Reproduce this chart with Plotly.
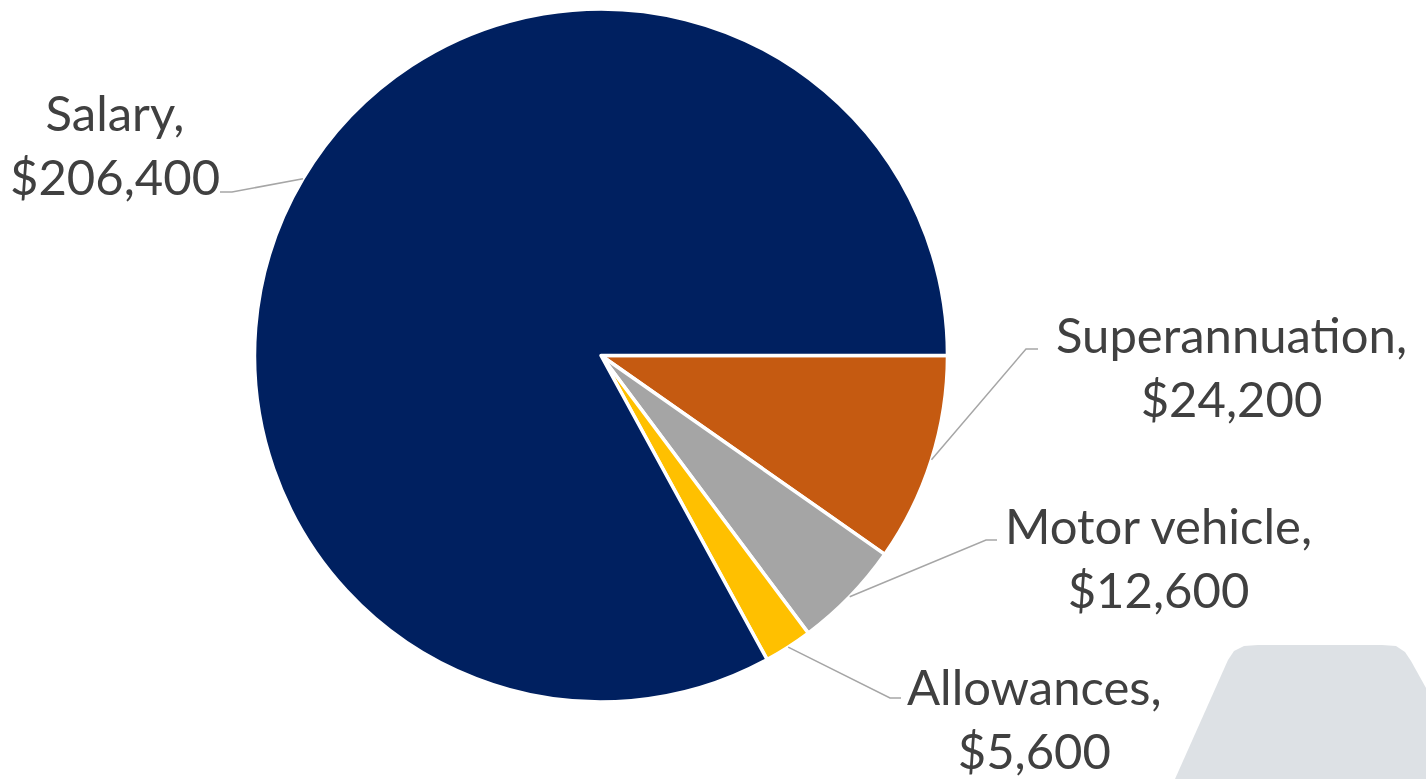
import math
import plotly.graph_objects as go

# Remuneration package components (clockwise from 3 o'clock)
categories = ["Superannuation", "Motor vehicle", "Allowances", "Salary"]
values = [24200, 12600, 5600, 206400]
colors = ["#C55A11", "#A5A5A5", "#FFC000", "#002060"]

W, H = 1426, 779

# pie geometry in pixels
CX, CY, R = 601.0, 355.5, 346.5


def px(x):
    return x / W


def py(y):
    return 1 - y / H


fig = go.Figure()
fig.add_trace(go.Pie(
    labels=categories,
    values=values,
    sort=False,
    direction="clockwise",
    rotation=90,
    textinfo="none",
    hoverinfo="label+value",
    marker=dict(colors=colors, line=dict(color="#FFFFFF", width=3.5)),
    domain=dict(x=[px(CX - R), px(CX + R)], y=[py(CY + R), py(CY - R)]),
    showlegend=False,
))

# label block centre, elbow point and end of leader line for each slice
label_pos = {
    "Superannuation": dict(cx=1231, cy=366, elbow=(1026, 349), end=(1038, 349)),
    "Motor vehicle": dict(cx=1158, cy=557, elbow=(986, 540), end=(997, 540)),
    "Allowances": dict(cx=1034, cy=718, elbow=(890, 698), end=(901, 698)),
    "Salary": dict(cx=115, cy=144, elbow=(232, 192), end=(220, 192)),
}

total = sum(values)
shapes = []
annotations = []
cum = 0.0
for name, v in zip(categories, values):
    mid = (cum + v / 2) / total * 2 * math.pi  # clockwise from 3 o'clock
    cum += v
    sx = CX + R * math.cos(mid)
    sy = CY + R * math.sin(mid)
    p = label_pos[name]
    ex, ey = p["elbow"]
    tx, ty = p["end"]
    shapes.append(dict(
        type="path", xref="paper", yref="paper",
        path=f"M {px(sx)},{py(sy)} L {px(ex)},{py(ey)} L {px(tx)},{py(ty)}",
        line=dict(color="#A6A6A6", width=1.5),
    ))
    annotations.append(dict(
        x=px(p["cx"]), y=py(p["cy"]), xref="paper", yref="paper",
        xanchor="center", yanchor="middle", align="center",
        text=f"{name},<br>${v:,}", showarrow=False,
        font=dict(family="Lato, 'Open Sans', sans-serif", size=49, color="#404040"),
    ))

# decorative panel in the lower-right corner
panel = [(1175, 779), (1228, 660), (1234, 651), (1244, 646), (1258, 645),
         (1382, 645), (1396, 646), (1405, 652), (1411, 661), (1426, 688),
         (1426, 779)]
panel_path = "M " + " L ".join(f"{px(x)},{py(y)}" for x, y in panel) + " Z"
shapes.insert(0, dict(
    type="path", xref="paper", yref="paper", path=panel_path,
    fillcolor="#DDE1E5", line=dict(width=0), layer="below",
))

fig.update_layout(
    width=W, height=H,
    margin=dict(l=0, r=0, t=0, b=0),
    paper_bgcolor="#FFFFFF",
    plot_bgcolor="#FFFFFF",
    shapes=shapes,
    annotations=annotations,
)

fig.write_html("out.html")
